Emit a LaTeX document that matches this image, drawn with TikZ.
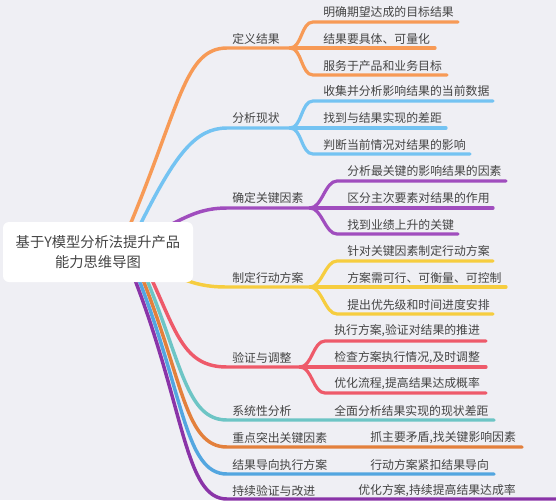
\documentclass[tikz,border=0pt]{standalone}
\usepackage{fontspec}
\setmainfont{Noto Sans CJK SC}
\definecolor{bgc}{HTML}{EFEFF4}
\definecolor{txt}{HTML}{444444}
\definecolor{cA}{HTML}{F79A56}
\definecolor{cB}{HTML}{74C3F2}
\definecolor{cC}{HTML}{A04DBE}
\definecolor{cD}{HTML}{F6CD3F}
\definecolor{cE}{HTML}{EE5A6A}
\definecolor{cF}{HTML}{6DC5C5}
\definecolor{cG}{HTML}{E3803C}
\definecolor{cH}{HTML}{53A6E0}
\definecolor{cI}{HTML}{8A34A8}
\pgfdeclarelayer{bg}
\pgfdeclarelayer{lines}
\pgfsetlayers{bg,lines,main}
\begin{document}
\begin{tikzpicture}[x=0.75pt,y=-0.75pt,
  conn/.style={line width=2.6pt,line cap=round},
  sub/.style={line width=2.4pt,line cap=round},
  lab/.style={anchor=west,inner sep=0pt,text=txt,font=\fontsize{8.9}{10}\selectfont},
  rootbox/.style={fill=white,rounded corners=4.5pt,minimum width=142.5pt,minimum height=45pt,
    align=center,inner sep=0pt,text=txt,font=\fontsize{10.7}{15}\selectfont}]
\useasboundingbox (0,0) rectangle (556,500);
\begin{pgfonlayer}{bg}
\fill[bgc] (0,0) rectangle (556,500);
\end{pgfonlayer}

\node[rootbox] (root) at (98,252) {基于Y模型分析法提升产品\\能力思维导图};

% start points (hidden behind root box)
\coordinate (s1) at (130,225);
\coordinate (s2) at (140,225);
\coordinate (s3) at (168,226);
\coordinate (s4) at (180,278);
\coordinate (s5) at (152,280);
\coordinate (s6) at (147,280);
\coordinate (s7) at (143,280);
\coordinate (s8) at (139,280);
\coordinate (s9) at (135,280);

% level 1
\coordinate (b1) at (227,48);  \coordinate (j1) at (290,48);
\node[lab] (p1) at (232,39) {定义结果};
\coordinate (b2) at (227,128); \coordinate (j2) at (290,128);
\node[lab] (p2) at (232,118) {分析现状};
\coordinate (b3) at (227,208); \coordinate (j3) at (310,208);
\node[lab] (p3) at (232,198) {确定关键因素};
\coordinate (b4) at (227,287); \coordinate (j4) at (310,287);
\node[lab] (p4) at (232,278) {制定行动方案};
\coordinate (b5) at (227,367); \coordinate (j5) at (300,367);
\node[lab] (p5) at (232,358) {验证与调整};
\coordinate (b6) at (227,420); \coordinate (e6) at (494,420);
\node[lab] (p6) at (232,411) {系统性分析};
\node[lab] (c61) at (334,411) {全面分析结果实现的现状差距};
\coordinate (b7) at (227,447); \coordinate (e7) at (522,447);
\node[lab] (p7) at (232,438) {重点突出关键因素};
\node[lab] (c71) at (370,438) {抓主要矛盾,找关键影响因素};
\coordinate (b8) at (227,474); \coordinate (e8) at (494,474);
\node[lab] (p8) at (232,465) {结果导向执行方案};
\node[lab] (c81) at (370,465) {行动方案紧扣结果导向};
\coordinate (b9) at (227,499); \coordinate (e9) at (556,499);
\node[lab] (p9) at (232,491) {持续验证与改进};
\node[lab] (c91) at (358,491) {优化方案,持续提高结果达成率};

% children group 1
\coordinate (c11s) at (313,22);  \coordinate (c11e) at (458,22);
\node[lab] (c11) at (323,12) {明确期望达成的目标结果};
\coordinate (c12s) at (313,48);  \coordinate (c12e) at (435,48);
\node[lab] (c12) at (323,39) {结果要具体、可量化};
\coordinate (c13s) at (313,75);  \coordinate (c13e) at (447,75);
\node[lab] (c13) at (323,66) {服务于产品和业务目标};
% group 2
\coordinate (c21s) at (313,101); \coordinate (c21e) at (493,101);
\node[lab] (c21) at (323,91) {收集并分析影响结果的当前数据};
\coordinate (c22s) at (313,128); \coordinate (c22e) at (446,128);
\node[lab] (c22) at (323,118) {找到与结果实现的差距};
\coordinate (c23s) at (313,154); \coordinate (c23e) at (470,154);
\node[lab] (c23) at (323,145) {判断当前情况对结果的影响};
% group 3
\coordinate (c31s) at (337,181); \coordinate (c31e) at (506,181);
\node[lab] (c31) at (347,171) {分析最关键的影响结果的因素};
\coordinate (c32s) at (337,208); \coordinate (c32e) at (493,208);
\node[lab] (c32) at (347,198) {区分主次要素对结果的作用};
\coordinate (c33s) at (337,234); \coordinate (c33e) at (458,234);
\node[lab] (c33) at (347,225) {找到业绩上升的关键};
% group 4
\coordinate (c41s) at (337,261); \coordinate (c41e) at (493,261);
\node[lab] (c41) at (347,251) {针对关键因素制定行动方案};
\coordinate (c42s) at (337,287); \coordinate (c42e) at (506,287);
\node[lab] (c42) at (347,278) {方案需可行、可衡量、可控制};
\coordinate (c43s) at (337,314); \coordinate (c43e) at (493,314);
\node[lab] (c43) at (347,305) {提出优先级和时间进度安排};
% group 5
\coordinate (c51s) at (325,341); \coordinate (c51e) at (486,341);
\node[lab] (c51) at (334,331) {执行方案,验证对结果的推进};
\coordinate (c52s) at (325,367); \coordinate (c52e) at (486,367);
\node[lab] (c52) at (334,358) {检查方案执行情况,及时调整};
\coordinate (c53s) at (325,393); \coordinate (c53e) at (486,393);
\node[lab] (c53) at (334,384) {优化流程,提高结果达成概率};

\begin{pgfonlayer}{lines}
\draw[conn,cA] (s1) .. controls +(50,-120) and +(-42,0) .. (b1) -- (j1);
\draw[conn,cB] (s2) .. controls +(35,-70) and +(-32,0) .. (b2) -- (j2);
\draw[conn,cC] (s3) .. controls +(20,-10) and +(-25,0) .. (b3) -- (j3);
\draw[conn,cD] (s4) .. controls +(15,6) and +(-20,0) .. (b4) -- (j4);
\draw[conn,cE] (s5) .. controls +(25,55) and +(-42,0) .. (b5) -- (j5);
\draw[conn,cF] (s6) .. controls +(35,85) and +(-40,0) .. (b6) -- (e6);
\draw[conn,cG] (s7) .. controls +(40,100) and +(-42,0) .. (b7) -- (e7);
\draw[conn,cH] (s8) .. controls +(45,115) and +(-42,0) .. (b8) -- (e8);
\draw[conn,cI] (s9) .. controls +(50,130) and +(-42,0) .. (b9) -- (e9);
\foreach \g/\c in {1/cA,2/cB,3/cC,4/cD,5/cE}{
  \foreach \k in {1,2,3}{
    \draw[sub,\c] (j\g) .. controls +(12,0) and +(-12,0) .. (c\g\k s) -- (c\g\k e);
  }
}
\end{pgfonlayer}
\end{tikzpicture}
\end{document}
